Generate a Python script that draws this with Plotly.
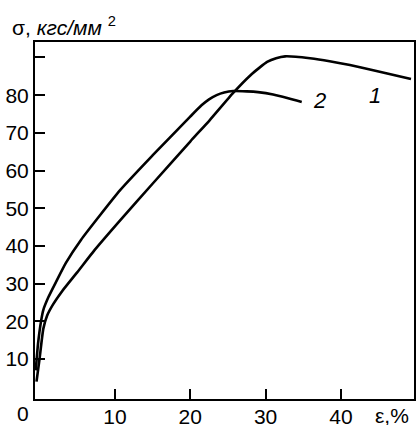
import plotly.graph_objects as go

# Curve 1
eps1 = [-0.4, 0.0, 0.5, 1.0, 1.8, 3.0, 5.0, 7.3, 10.7, 15.0, 20.0, 22.6, 25.7, 28.0, 29.2, 30.2, 31.4, 32.6, 34.0, 35.9, 38.5, 41.2, 45.0, 49.3]
sig1 = [4.0, 10.0, 18.0, 21.5, 24.5, 28.0, 33.0, 38.9, 46.8, 56.5, 67.7, 73.4, 80.6, 85.3, 87.3, 88.8, 89.8, 90.3, 90.2, 89.8, 89.0, 88.0, 86.3, 84.3]

# Curve 2
eps2 = [-0.5, -0.2, 0.2, 0.5, 1.2, 2.2, 3.5, 5.5, 10.7, 15.0, 20.0, 21.5, 22.5, 23.5, 24.5, 25.7, 27.5, 29.0, 31.0, 33.0, 34.8]
sig2 = [7.0, 14.0, 20.0, 23.0, 26.5, 30.5, 35.5, 41.6, 54.8, 64.0, 74.3, 77.3, 78.9, 80.0, 80.7, 81.1, 81.0, 80.8, 80.2, 79.2, 78.2]

x_ticks = [10, 20, 30, 40]
y_ticks = [10, 20, 30, 40, 50, 60, 70, 80, 90]
y_ticktext = ["10", "20", "30", "40", "50", "60", "70", "80", ""]

FONT = "Liberation Sans, Arial, sans-serif"
line_style = dict(color="black", width=2.6, shape="spline", smoothing=0.5)

fig = go.Figure()
fig.add_trace(go.Scatter(x=eps1, y=sig1, mode="lines", line=line_style, showlegend=False))
fig.add_trace(go.Scatter(x=eps2, y=sig2, mode="lines", line=line_style, showlegend=False))

fig.update_layout(
    width=419, height=425,
    margin=dict(l=35, r=5, t=42, b=26, autoexpand=False),
    plot_bgcolor="white", paper_bgcolor="white",
    font=dict(family=FONT, size=21, color="black"),
    xaxis=dict(range=[-0.6, 49.7], tickvals=x_ticks, ticks="inside", ticklen=10, tickwidth=2,
               tickcolor="black", showline=True, linecolor="black", linewidth=2, mirror=True,
               showgrid=False, zeroline=False, tickfont=dict(size=21), automargin=False,
               ticklabelstandoff=-2),
    yaxis=dict(range=[-0.6, 94.1], tickvals=y_ticks, ticktext=y_ticktext, ticks="inside",
               ticklen=10, tickwidth=2, tickcolor="black", showline=True, linecolor="black",
               linewidth=2, mirror=True, showgrid=False, zeroline=False, tickfont=dict(size=21),
               automargin=False),
    annotations=[
        dict(text="σ, <i>кгс/мм</i> <sup>2</sup>", x=-0.066, y=1.045, xref="paper", yref="paper",
             xanchor="left", yanchor="middle", showarrow=False, font=dict(size=21)),
        dict(text="ε,%", x=0.892, y=-0.045, xref="paper", yref="paper",
             xanchor="left", yanchor="middle", showarrow=False, font=dict(size=21)),
        dict(text="0", x=-0.032, y=-0.041, xref="paper", yref="paper",
             xanchor="center", yanchor="middle", showarrow=False, font=dict(size=21)),
        dict(text="<i>2</i>", x=37.2, y=78.7, xref="x", yref="y", showarrow=False,
             font=dict(size=22)),
        dict(text="<i>1</i>", x=44.5, y=80.0, xref="x", yref="y", showarrow=False,
             font=dict(size=22)),
    ],
)

fig.write_html("out.html", config={"displayModeBar": False},
               post_script="document.body.style.margin='0';document.body.style.overflow='hidden';")
